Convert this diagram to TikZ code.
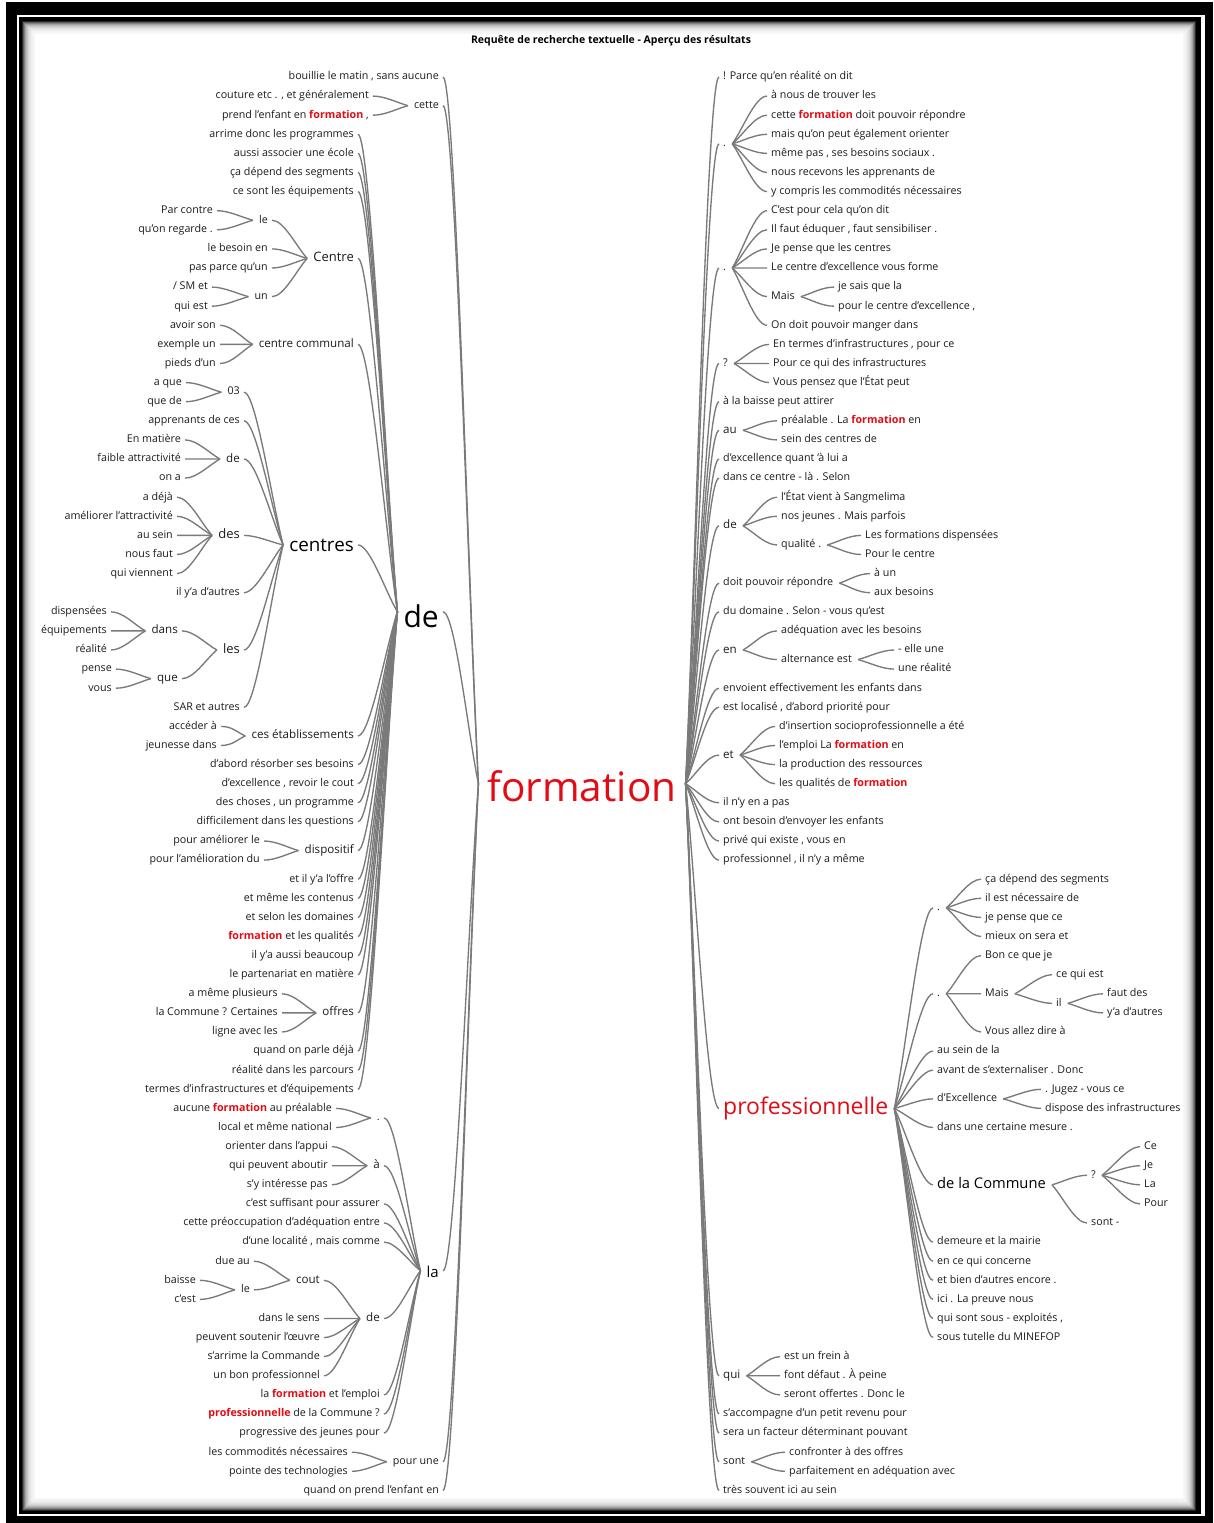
\documentclass[tikz,border=0pt]{standalone}
\usepackage{fontspec}
\setmainfont{Open Sans}
\usetikzlibrary{calc}
\definecolor{tx}{RGB}{28,28,28}
\definecolor{ln}{RGB}{122,122,122}
\definecolor{fred}{RGB}{226,12,20}
% vertical position of text row #1
\newcommand\ry[1]{77+19.1*#1}
% highlighted keyword inside a phrase
\newcommand\hl[1]{\textcolor{fred}{\bfseries #1}}
% connector on the left half: parent #2 (with tip gap #1), child #3
\newcommand{\lk}[3][6]{%
  \draw[conn] let \p1=([xshift=4pt]#3.east), \p2=([xshift=-#1pt]#2.west),
    \n1={min(0.5*(\x2-\x1),12pt)} in
    (\p1) .. controls ($(\p1)+(\n1,0)$) and ($(\p2)!0.3!(\p1)$) .. (\p2);}
% connector on the right half: parent #2 (with tip gap #1), child #3
\newcommand{\rk}[3][6]{%
  \draw[conn] let \p1=([xshift=-4pt]#3.west), \p2=([xshift=#1pt]#2.east),
    \n1={min(0.5*(\x1-\x2),12pt)} in
    (\p1) .. controls ($(\p1)-(\n1,0)$) and ($(\p2)!0.3!(\p1)$) .. (\p2);}
\tikzset{
  conn/.style={draw=ln, line width=1.35pt},
  base/.style={inner sep=0pt, text=tx},
  L/.style={base, anchor=east},
  R/.style={base, anchor=west},
  fa/.style={font=\fontsize{10.7}{12}\selectfont, text height=7.7pt, text depth=2.1pt},
  fb/.style={font=\fontsize{11.6}{13}\selectfont, text height=8.3pt, text depth=2.3pt},
  fc/.style={font=\fontsize{13}{15}\selectfont, text height=9.4pt, text depth=2.6pt},
  fcent/.style={font=\fontsize{18.8}{22}\selectfont, text height=14pt, text depth=0pt, text=black},
  fde/.style={font=\fontsize{30}{34}\selectfont, text height=31pt, text depth=0pt, text=black},
  fla/.style={font=\fontsize{15}{18}\selectfont, text height=14pt, text depth=0pt, text=black},
  froot/.style={font=\fontsize{40.5}{44}\selectfont, text height=36pt, text depth=0pt, text=fred},
  fpro/.style={font=\fontsize{23}{26}\selectfont, text height=13pt, text depth=0.6pt, text=fred},
  fcom/.style={font=\fontsize{14.7}{17}\selectfont, text height=8.5pt, text depth=0.7pt, text=black},
}
\begin{document}
\begin{tikzpicture}[x=1pt,y=-1pt]
\useasboundingbox (0,0) rectangle (1213,1523);
% double frame with inner shadow
\fill[black] (6,2) rectangle (1213,1523);
\fill[white] (17,15) rectangle (1205,1516);
\fill[black] (19,17) rectangle (1201,1514);
\foreach \i in {0,...,12} {
  \pgfmathsetmacro\g{int(85*0.76^\i)}
  \fill[black!\g] (22+\i,21+\i) rectangle (1196-\i,1511-\i);
}
\fill[white] (35,34) rectangle (1183,1498);

\node[font=\bfseries\fontsize{10.5}{12}\selectfont, inner sep=0pt] (title) at (611,41)
  {Requête de recherche textuelle - Aperçu des résultats};

% root
\node[base, froot, anchor=center] (fm) at (582,\ry{37}) {formation};

% ---------------- left half ----------------
\node[L,fa] (b0) at (439,\ry{0}) {bouillie le matin , sans aucune};
\node[L,fa] (ce) at (439,\ry{1.5}) {cette};
\node[L,fa] (ce1) at (369,\ry{1}) {couture etc . , et généralement};
\node[L,fa] (ce2) at (369,\ry{2}) {prend l'enfant en \hl{formation} ,};
\node[L,fde] (de) at (439,\ry{28}) {de};
\node[L,fla] (la) at (439,\ry{62.5}) {la};
\node[L,fa] (pu) at (439,\ry{72.5}) {pour une};
\node[L,fa] (pu1) at (348,\ry{72}) {les commodités nécessaires};
\node[L,fa] (pu2) at (348,\ry{73}) {pointe des technologies};
\node[L,fa] (qp) at (439,\ry{74}) {quand on prend l'enfant en};

% branch "de"
\node[L,fa] (d1) at (354,\ry{3}) {arrime donc les programmes};
\node[L,fa] (d2) at (354,\ry{4}) {aussi associer une école};
\node[L,fa] (d3) at (354,\ry{5}) {ça dépend des segments};
\node[L,fa] (d4) at (354,\ry{6}) {ce sont les équipements};
\node[L,fc] (Ct) at (354,\ry{9.5}) {Centre};
\node[L,fa] (Ctle) at (268,\ry{7.5}) {le};
\node[L,fa] (Ctle1) at (213,\ry{7}) {Par contre};
\node[L,fa] (Ctle2) at (213,\ry{8}) {qu'on regarde .};
\node[L,fa] (Ct2) at (268,\ry{9}) {le besoin en};
\node[L,fa] (Ct3) at (268,\ry{10}) {pas parce qu'un};
\node[L,fa] (Ctun) at (268,\ry{11.5}) {un};
\node[L,fa] (Ctun1) at (208,\ry{11}) {/ SM et};
\node[L,fa] (Ctun2) at (208,\ry{12}) {qui est};
\node[L,fb] (cc) at (354,\ry{14}) {centre communal};
\node[L,fa] (cc1) at (216,\ry{13}) {avoir son};
\node[L,fa] (cc2) at (216,\ry{14}) {exemple un};
\node[L,fa] (cc3) at (216,\ry{15}) {pieds d'un};
\node[L,fcent] (cs) at (354,\ry{24.5}) {centres};
\node[L,fa] (cs03) at (240,\ry{16.5}) {03};
\node[L,fa] (cs031) at (182,\ry{16}) {a que};
\node[L,fa] (cs032) at (182,\ry{17}) {que de};
\node[L,fa] (csap) at (240,\ry{18}) {apprenants de ces};
\node[L,fb] (csde) at (240,\ry{20}) {de};
\node[L,fa] (csde1) at (181,\ry{19}) {En matière};
\node[L,fa] (csde2) at (181,\ry{20}) {faible attractivité};
\node[L,fa] (csde3) at (181,\ry{21}) {on a};
\node[L,fc] (csdes) at (240,\ry{24}) {des};
\node[L,fa] (csdes1) at (173,\ry{22}) {a déjà};
\node[L,fa] (csdes2) at (173,\ry{23}) {améliorer l'attractivité};
\node[L,fa] (csdes3) at (173,\ry{24}) {au sein};
\node[L,fa] (csdes4) at (173,\ry{25}) {nous faut};
\node[L,fa] (csdes5) at (173,\ry{26}) {qui viennent};
\node[L,fa] (csil) at (240,\ry{27}) {il y'a d'autres};
\node[L,fc] (csles) at (240,\ry{30}) {les};
\node[L,fb] (csdans) at (178,\ry{29}) {dans};
\node[L,fa] (csdans1) at (107,\ry{28}) {dispensées};
\node[L,fa] (csdans2) at (107,\ry{29}) {équipements};
\node[L,fa] (csdans3) at (107,\ry{30}) {réalité};
\node[L,fb] (csque) at (178,\ry{31.5}) {que};
\node[L,fa] (csque1) at (112,\ry{31}) {pense};
\node[L,fa] (csque2) at (112,\ry{32}) {vous};
\node[L,fa] (cssar) at (240,\ry{33}) {SAR et autres};
\node[L,fb] (ceta) at (354,\ry{34.5}) {ces établissements};
\node[L,fa] (ceta1) at (217,\ry{34}) {accéder à};
\node[L,fa] (ceta2) at (217,\ry{35}) {jeunesse dans};
\node[L,fa] (d5) at (354,\ry{36}) {d'abord résorber ses besoins};
\node[L,fa] (d6) at (354,\ry{37}) {d'excellence , revoir le cout};
\node[L,fa] (d7) at (354,\ry{38}) {des choses , un programme};
\node[L,fa] (d8) at (354,\ry{39}) {difficilement dans les questions};
\node[L,fb] (dis) at (354,\ry{40.5}) {dispositif};
\node[L,fa] (dis1) at (260,\ry{40}) {pour améliorer le};
\node[L,fa] (dis2) at (260,\ry{41}) {pour l'amélioration du};
\node[L,fa] (d9) at (354,\ry{42}) {et il y'a l'offre};
\node[L,fa] (d10) at (354,\ry{43}) {et même les contenus};
\node[L,fa] (d11) at (354,\ry{44}) {et selon les domaines};
\node[L,fa] (d12) at (354,\ry{45}) {\hl{formation} et les qualités};
\node[L,fa] (d13) at (354,\ry{46}) {il y'a aussi beaucoup};
\node[L,fa] (d14) at (354,\ry{47}) {le partenariat en matière};
\node[L,fb] (off) at (354,\ry{49}) {offres};
\node[L,fa] (off1) at (278,\ry{48}) {a même plusieurs};
\node[L,fa] (off2) at (278,\ry{49}) {la Commune ? Certaines};
\node[L,fa] (off3) at (278,\ry{50}) {ligne avec les};
\node[L,fa] (d15) at (354,\ry{51}) {quand on parle déjà};
\node[L,fa] (d16) at (354,\ry{52}) {réalité dans les parcours};
\node[L,fa] (d17) at (354,\ry{53}) {termes d'infrastructures et d'équipements};

% branch "la"
\node[L,fa] (lap) at (380,\ry{54.5}) {.};
\node[L,fa] (lap1) at (332,\ry{54}) {aucune \hl{formation} au préalable};
\node[L,fa] (lap2) at (332,\ry{55}) {local et même national};
\node[L,fb] (laa) at (380,\ry{57}) {à};
\node[L,fa] (laa1) at (328,\ry{56}) {orienter dans l'appui};
\node[L,fa] (laa2) at (328,\ry{57}) {qui peuvent aboutir};
\node[L,fa] (laa3) at (328,\ry{58}) {s'y intéresse pas};
\node[L,fa] (la1) at (380,\ry{59}) {c'est suffisant pour assurer};
\node[L,fa] (la2) at (380,\ry{60}) {cette préoccupation d'adéquation entre};
\node[L,fa] (la3) at (380,\ry{61}) {d'une localité , mais comme};
\node[L,fb] (lade) at (380,\ry{65}) {de};
\node[L,fb] (lco) at (320,\ry{63}) {cout};
\node[L,fa] (lco1) at (250,\ry{62}) {due au};
\node[L,fa] (lcle) at (250,\ry{63.5}) {le};
\node[L,fa] (lcle1) at (196,\ry{63}) {baisse};
\node[L,fa] (lcle2) at (196,\ry{64}) {c'est};
\node[L,fa] (lade1) at (320,\ry{65}) {dans le sens};
\node[L,fa] (lade2) at (320,\ry{66}) {peuvent soutenir l'œuvre};
\node[L,fa] (lade3) at (320,\ry{67}) {s'arrime la Commande};
\node[L,fa] (lade4) at (320,\ry{68}) {un bon professionnel};
\node[L,fa] (la4) at (380,\ry{69}) {la \hl{formation} et l'emploi};
\node[L,fa] (la5) at (380,\ry{70}) {\hl{professionnelle} de la Commune ?};
\node[L,fa] (la6) at (380,\ry{71}) {progressive des jeunes pour};

% left connectors
\foreach \c in {b0,ce,de,la,pu,qp} {\lk[9]{fm}{\c}}
\foreach \c in {ce1,ce2} {\lk{ce}{\c}}
\foreach \c in {pu1,pu2} {\lk{pu}{\c}}
\foreach \c in {d1,d2,d3,d4,Ct,cc,cs,ceta,d5,d6,d7,d8,dis,d9,d10,d11,d12,d13,d14,off,d15,d16,d17} {\lk{de}{\c}}
\foreach \c in {Ctle,Ct2,Ct3,Ctun} {\lk{Ct}{\c}}
\foreach \c in {Ctle1,Ctle2} {\lk{Ctle}{\c}}
\foreach \c in {Ctun1,Ctun2} {\lk{Ctun}{\c}}
\foreach \c in {cc1,cc2,cc3} {\lk{cc}{\c}}
\foreach \c in {cs03,csap,csde,csdes,csil,csles,cssar} {\lk{cs}{\c}}
\foreach \c in {cs031,cs032} {\lk{cs03}{\c}}
\foreach \c in {csde1,csde2,csde3} {\lk{csde}{\c}}
\foreach \c in {csdes1,csdes2,csdes3,csdes4,csdes5} {\lk{csdes}{\c}}
\foreach \c in {csdans,csque} {\lk{csles}{\c}}
\foreach \c in {csdans1,csdans2,csdans3} {\lk{csdans}{\c}}
\foreach \c in {csque1,csque2} {\lk{csque}{\c}}
\foreach \c in {ceta1,ceta2} {\lk{ceta}{\c}}
\foreach \c in {dis1,dis2} {\lk{dis}{\c}}
\foreach \c in {off1,off2,off3} {\lk{off}{\c}}
\foreach \c in {lap,laa,la1,la2,la3,lade,la4,la5,la6} {\lk{la}{\c}}
\foreach \c in {lap1,lap2} {\lk{lap}{\c}}
\foreach \c in {laa1,laa2,laa3} {\lk{laa}{\c}}
\foreach \c in {lco,lade1,lade2,lade3,lade4} {\lk{lade}{\c}}
\foreach \c in {lco1,lcle} {\lk{lco}{\c}}
\foreach \c in {lcle1,lcle2} {\lk{lcle}{\c}}

% ---------------- right half ----------------
\node[R,fa] (r0) at (723,\ry{0}) {! Parce qu'en réalité on dit};
\node[R,fa] (rp1) at (723,\ry{3.5}) {.};
\node[R,fa] (rp1a) at (771,\ry{1}) {à nous de trouver les};
\node[R,fa] (rp1b) at (771,\ry{2}) {cette \hl{formation} doit pouvoir répondre};
\node[R,fa] (rp1c) at (771,\ry{3}) {mais qu'on peut également orienter};
\node[R,fa] (rp1d) at (771,\ry{4}) {même pas , ses besoins sociaux .};
\node[R,fa] (rp1e) at (771,\ry{5}) {nous recevons les apprenants de};
\node[R,fa] (rp1f) at (771,\ry{6}) {y compris les commodités nécessaires};
\node[R,fa] (rp2) at (723,\ry{10}) {.};
\node[R,fa] (rp2a) at (771,\ry{7}) {C'est pour cela qu'on dit};
\node[R,fa] (rp2b) at (771,\ry{8}) {Il faut éduquer , faut sensibiliser .};
\node[R,fa] (rp2c) at (771,\ry{9}) {Je pense que les centres};
\node[R,fa] (rp2d) at (771,\ry{10}) {Le centre d'excellence vous forme};
\node[R,fa] (rm) at (771,\ry{11.5}) {Mais};
\node[R,fa] (rm1) at (838,\ry{11}) {je sais que la};
\node[R,fa] (rm2) at (838,\ry{12}) {pour le centre d'excellence ,};
\node[R,fa] (rp2e) at (771,\ry{13}) {On doit pouvoir manger dans};
\node[R,fa] (rq) at (723,\ry{15}) {?};
\node[R,fa] (rq1) at (773,\ry{14}) {En termes d'infrastructures , pour ce};
\node[R,fa] (rq2) at (773,\ry{15}) {Pour ce qui des infrastructures};
\node[R,fa] (rq3) at (773,\ry{16}) {Vous pensez que l'État peut};
\node[R,fa] (r17) at (723,\ry{17}) {à la baisse peut attirer};
\node[R,fb] (rau) at (723,\ry{18.5}) {au};
\node[R,fa] (rau1) at (781,\ry{18}) {préalable . La \hl{formation} en};
\node[R,fa] (rau2) at (781,\ry{19}) {sein des centres de};
\node[R,fa] (r20) at (723,\ry{20}) {d'excellence quant 'à lui a};
\node[R,fa] (r21) at (723,\ry{21}) {dans ce centre - là . Selon};
\node[R,fb] (rde) at (723,\ry{23.5}) {de};
\node[R,fa] (rde1) at (781,\ry{22}) {l'État vient à Sangmelima};
\node[R,fa] (rde2) at (781,\ry{23}) {nos jeunes . Mais parfois};
\node[R,fa] (rql) at (781,\ry{24.5}) {qualité .};
\node[R,fa] (rql1) at (865,\ry{24}) {Les formations dispensées};
\node[R,fa] (rql2) at (865,\ry{25}) {Pour le centre};
\node[R,fa] (rdo) at (723,\ry{26.5}) {doit pouvoir répondre};
\node[R,fa] (rdo1) at (874,\ry{26}) {à un};
\node[R,fa] (rdo2) at (874,\ry{27}) {aux besoins};
\node[R,fa] (r28) at (723,\ry{28}) {du domaine . Selon - vous qu'est};
\node[R,fb] (ren) at (723,\ry{30}) {en};
\node[R,fa] (ren1) at (781,\ry{29}) {adéquation avec les besoins};
\node[R,fa] (ral) at (781,\ry{30.5}) {alternance est};
\node[R,fa] (ral1) at (898,\ry{30}) {- elle une};
\node[R,fa] (ral2) at (898,\ry{31}) {une réalité};
\node[R,fa] (r32) at (723,\ry{32}) {envoient effectivement les enfants dans};
\node[R,fa] (r33) at (723,\ry{33}) {est localisé , d'abord priorité pour};
\node[R,fb] (ret) at (723,\ry{35.5}) {et};
\node[R,fa] (ret1) at (779,\ry{34}) {d'insertion socioprofessionnelle a été};
\node[R,fa] (ret2) at (779,\ry{35}) {l'emploi La \hl{formation} en};
\node[R,fa] (ret3) at (779,\ry{36}) {la production des ressources};
\node[R,fa] (ret4) at (779,\ry{37}) {les qualités de \hl{formation}};
\node[R,fa] (r38) at (723,\ry{38}) {il n'y en a pas};
\node[R,fa] (r39) at (723,\ry{39}) {ont besoin d'envoyer les enfants};
\node[R,fa] (r40) at (723,\ry{40}) {privé qui existe , vous en};
\node[R,fa] (r41) at (723,\ry{41}) {professionnel , il n'y a même};

% branch "professionnelle"
\node[R,fpro] (pr) at (723,\ry{54}) {professionnelle};
\node[R,fa] (pp1) at (937,\ry{43.5}) {.};
\node[R,fa] (pp1a) at (985,\ry{42}) {ça dépend des segments};
\node[R,fa] (pp1b) at (985,\ry{43}) {il est nécessaire de};
\node[R,fa] (pp1c) at (985,\ry{44}) {je pense que ce};
\node[R,fa] (pp1d) at (985,\ry{45}) {mieux on sera et};
\node[R,fa] (pp2) at (937,\ry{48}) {.};
\node[R,fa] (pp2a) at (985,\ry{46}) {Bon ce que je};
\node[R,fa] (pm) at (985,\ry{48}) {Mais};
\node[R,fa] (pm1) at (1056,\ry{47}) {ce qui est};
\node[R,fa] (pil) at (1056,\ry{48.5}) {il};
\node[R,fa] (pil1) at (1107,\ry{48}) {faut des};
\node[R,fa] (pil2) at (1107,\ry{49}) {y'a d'autres};
\node[R,fa] (pp2b) at (985,\ry{50}) {Vous allez dire à};
\node[R,fa] (pr51) at (937,\ry{51}) {au sein de la};
\node[R,fa] (pr52) at (937,\ry{52}) {avant de s'externaliser . Donc};
\node[R,fa] (pex) at (937,\ry{53.5}) {d'Excellence};
\node[R,fa] (pex1) at (1045,\ry{53}) {. Jugez - vous ce};
\node[R,fa] (pex2) at (1045,\ry{54}) {dispose des infrastructures};
\node[R,fa] (pr55) at (937,\ry{55}) {dans une certaine mesure .};
\node[R,fcom] (pco) at (937,\ry{58}) {de la Commune};
\node[R,fa] (pcq) at (1091,\ry{57.5}) {?};
\node[R,fa] (pcq1) at (1144,\ry{56}) {Ce};
\node[R,fa] (pcq2) at (1144,\ry{57}) {Je};
\node[R,fa] (pcq3) at (1144,\ry{58}) {La};
\node[R,fa] (pcq4) at (1144,\ry{59}) {Pour};
\node[R,fa] (pcs) at (1091,\ry{60}) {sont -};
\node[R,fa] (pr61) at (937,\ry{61}) {demeure et la mairie};
\node[R,fa] (pr62) at (937,\ry{62}) {en ce qui concerne};
\node[R,fa] (pr63) at (937,\ry{63}) {et bien d'autres encore .};
\node[R,fa] (pr64) at (937,\ry{64}) {ici . La preuve nous};
\node[R,fa] (pr65) at (937,\ry{65}) {qui sont sous - exploités ,};
\node[R,fa] (pr66) at (937,\ry{66}) {sous tutelle du MINEFOP};

\node[R,fb] (rqui) at (723,\ry{68}) {qui};
\node[R,fa] (rqui1) at (784,\ry{67}) {est un frein à};
\node[R,fa] (rqui2) at (784,\ry{68}) {font défaut . À peine};
\node[R,fa] (rqui3) at (784,\ry{69}) {seront offertes . Donc le};
\node[R,fa] (r70) at (723,\ry{70}) {s'accompagne d'un petit revenu pour};
\node[R,fa] (r71) at (723,\ry{71}) {sera un facteur déterminant pouvant};
\node[R,fa] (rso) at (723,\ry{72.5}) {sont};
\node[R,fa] (rso1) at (789,\ry{72}) {confronter à des offres};
\node[R,fa] (rso2) at (789,\ry{73}) {parfaitement en adéquation avec};
\node[R,fa] (r74) at (723,\ry{74}) {très souvent ici au sein};

% right connectors
\foreach \c in {r0,rp1,rp2,rq,r17,rau,r20,r21,rde,rdo,r28,ren,r32,r33,ret,r38,r39,r40,r41,pr,rqui,r70,r71,rso,r74} {\rk[9]{fm}{\c}}
\foreach \c in {rp1a,rp1b,rp1c,rp1d,rp1e,rp1f} {\rk{rp1}{\c}}
\foreach \c in {rp2a,rp2b,rp2c,rp2d,rm,rp2e} {\rk{rp2}{\c}}
\foreach \c in {rm1,rm2} {\rk{rm}{\c}}
\foreach \c in {rq1,rq2,rq3} {\rk{rq}{\c}}
\foreach \c in {rau1,rau2} {\rk{rau}{\c}}
\foreach \c in {rde1,rde2,rql} {\rk{rde}{\c}}
\foreach \c in {rql1,rql2} {\rk{rql}{\c}}
\foreach \c in {rdo1,rdo2} {\rk{rdo}{\c}}
\foreach \c in {ren1,ral} {\rk{ren}{\c}}
\foreach \c in {ral1,ral2} {\rk{ral}{\c}}
\foreach \c in {ret1,ret2,ret3,ret4} {\rk{ret}{\c}}
\foreach \c in {pp1,pp2,pr51,pr52,pex,pr55,pco,pr61,pr62,pr63,pr64,pr65,pr66} {\rk{pr}{\c}}
\foreach \c in {pp1a,pp1b,pp1c,pp1d} {\rk{pp1}{\c}}
\foreach \c in {pp2a,pm,pp2b} {\rk{pp2}{\c}}
\foreach \c in {pm1,pil} {\rk{pm}{\c}}
\foreach \c in {pil1,pil2} {\rk{pil}{\c}}
\foreach \c in {pex1,pex2} {\rk{pex}{\c}}
\foreach \c in {pcq,pcs} {\rk{pco}{\c}}
\foreach \c in {pcq1,pcq2,pcq3,pcq4} {\rk{pcq}{\c}}
\foreach \c in {rqui1,rqui2,rqui3} {\rk{rqui}{\c}}
\foreach \c in {rso1,rso2} {\rk{rso}{\c}}
\end{tikzpicture}
\end{document}
